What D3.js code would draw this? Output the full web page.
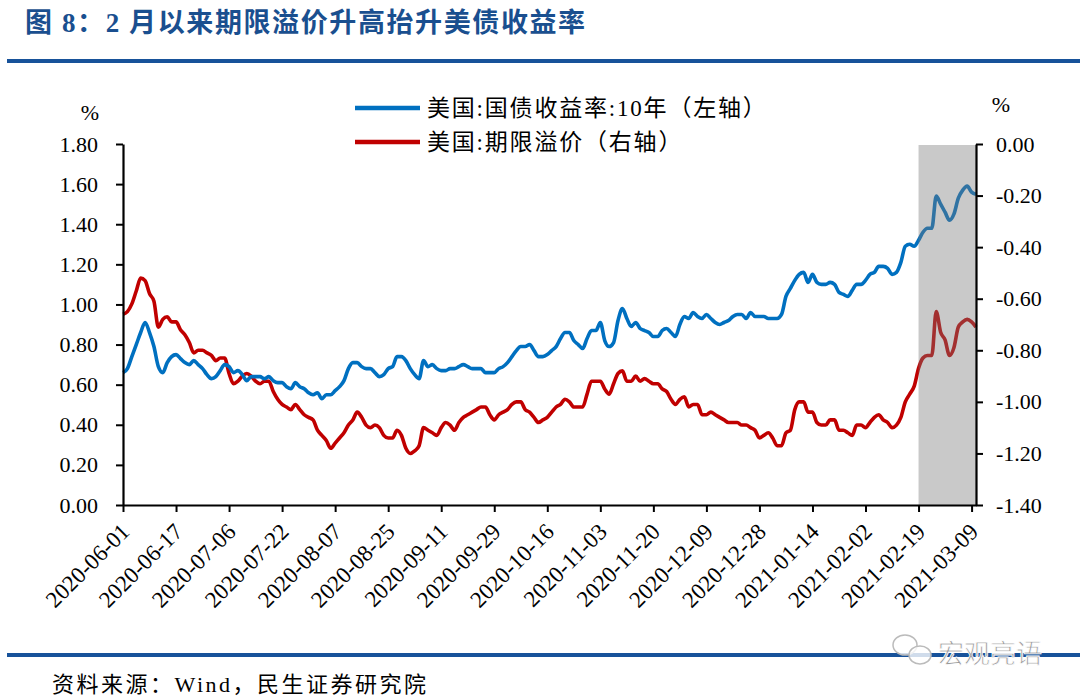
<!DOCTYPE html>
<html>
<head>
<meta charset="utf-8">
<script src="https://cdn.jsdelivr.net/npm/d3@7"></script>
<style>
  body { margin: 0; background: #fff; }
  svg { display: block; }
</style>
</head>
<body>
<svg id="chart" width="1080" height="699"></svg>
<script>
// x tick labels, one every 12 trading days
var dateLabels = ["2020-06-01", "2020-06-17", "2020-07-06", "2020-07-22", "2020-08-07", "2020-08-25",
  "2020-09-11", "2020-09-29", "2020-10-16", "2020-11-03", "2020-11-20", "2020-12-09",
  "2020-12-28", "2021-01-14", "2021-02-02", "2021-02-19", "2021-03-09"];
var labelStep = 12;
var shadeStart = 180; // index of 2021-02-19

var leftTicks = [0, 0.2, 0.4, 0.6, 0.8, 1.0, 1.2, 1.4, 1.6, 1.8];
var rightTicks = [-1.4, -1.2, -1.0, -0.8, -0.6, -0.4, -0.2, 0];

// 美国:国债收益率:10年 (%)
var yield10y = [
  0.66, 0.68, 0.74, 0.80, 0.86, 0.91, 0.86, 0.79, 0.69, 0.66,
  0.71, 0.74, 0.75, 0.73, 0.71, 0.70, 0.72, 0.70, 0.68, 0.65,
  0.63, 0.64, 0.67, 0.70, 0.69, 0.66, 0.67, 0.65, 0.62, 0.64,
  0.64, 0.64, 0.63, 0.64, 0.62, 0.61, 0.61, 0.59, 0.58, 0.61,
  0.59, 0.58, 0.56, 0.55, 0.56, 0.53, 0.55, 0.55, 0.57, 0.59,
  0.62, 0.68, 0.71, 0.71, 0.69, 0.68, 0.68, 0.66, 0.64, 0.65,
  0.68, 0.69, 0.74, 0.74, 0.72, 0.68, 0.65, 0.63, 0.72, 0.69,
  0.70, 0.68, 0.67, 0.67, 0.68, 0.68, 0.69, 0.70, 0.69, 0.68,
  0.68, 0.68, 0.66, 0.66, 0.66, 0.68, 0.69, 0.71, 0.74, 0.77,
  0.79, 0.79, 0.80, 0.77, 0.74, 0.74, 0.75, 0.77, 0.79, 0.83,
  0.86, 0.86, 0.82, 0.80, 0.78, 0.83, 0.87, 0.87, 0.91, 0.82,
  0.79, 0.81, 0.92, 0.98, 0.93, 0.89, 0.91, 0.88, 0.87, 0.86,
  0.84, 0.84, 0.87, 0.88, 0.86, 0.84, 0.90, 0.94, 0.93, 0.96,
  0.94, 0.93, 0.95, 0.93, 0.91, 0.90, 0.91, 0.92, 0.94, 0.95,
  0.95, 0.93, 0.96, 0.94, 0.94, 0.94, 0.93, 0.93, 0.93, 0.95,
  1.04, 1.08, 1.12, 1.15, 1.16, 1.11, 1.15, 1.11, 1.10, 1.10,
  1.11, 1.10, 1.06, 1.05, 1.04, 1.07, 1.10, 1.10, 1.12, 1.15,
  1.16, 1.19, 1.19, 1.18, 1.15, 1.16, 1.21, 1.29, 1.30, 1.29,
  1.32, 1.36, 1.38, 1.38, 1.54, 1.50, 1.46, 1.42, 1.45, 1.53,
  1.57, 1.59, 1.56, 1.55
];

// 美国:期限溢价 (%)
var termPremium = [
  -0.66, -0.65, -0.62, -0.57, -0.52, -0.53, -0.58, -0.61, -0.71, -0.68,
  -0.67, -0.69, -0.69, -0.72, -0.74, -0.77, -0.81, -0.80, -0.80, -0.81,
  -0.82, -0.84, -0.83, -0.83, -0.89, -0.93, -0.92, -0.90, -0.89, -0.90,
  -0.92, -0.93, -0.92, -0.92, -0.96, -0.99, -1.01, -1.02, -1.03, -1.01,
  -1.03, -1.05, -1.06, -1.07, -1.11, -1.13, -1.15, -1.18, -1.16, -1.14,
  -1.12, -1.09, -1.07, -1.04, -1.06, -1.09, -1.10, -1.09, -1.10, -1.13,
  -1.14, -1.14, -1.11, -1.13, -1.18, -1.20, -1.19, -1.17, -1.10, -1.11,
  -1.12, -1.13, -1.10, -1.08, -1.09, -1.11, -1.08, -1.06, -1.05, -1.04,
  -1.03, -1.02, -1.02, -1.05, -1.07, -1.05, -1.04, -1.03, -1.01, -1.00,
  -1.00, -1.03, -1.04, -1.06, -1.08, -1.07, -1.06, -1.04, -1.02, -1.01,
  -0.99, -1.00, -1.02, -1.02, -1.02, -0.97, -0.92, -0.92, -0.92, -0.95,
  -0.97, -0.93, -0.89, -0.88, -0.92, -0.92, -0.90, -0.92, -0.91, -0.92,
  -0.93, -0.93, -0.95, -0.96, -0.99, -1.01, -0.99, -0.98, -1.02, -1.01,
  -1.01, -1.05, -1.05, -1.04, -1.05, -1.06, -1.07, -1.08, -1.08, -1.08,
  -1.09, -1.09, -1.10, -1.11, -1.14, -1.13, -1.12, -1.14, -1.17, -1.17,
  -1.12, -1.11, -1.03, -1.00, -1.00, -1.04, -1.04, -1.08, -1.09, -1.09,
  -1.07, -1.07, -1.11, -1.11, -1.12, -1.13, -1.09, -1.09, -1.10, -1.08,
  -1.06, -1.05, -1.07, -1.08, -1.10, -1.09, -1.06, -1.00, -0.97, -0.94,
  -0.87, -0.83, -0.82, -0.82, -0.65, -0.73, -0.76, -0.82, -0.79, -0.71,
  -0.69, -0.68, -0.69, -0.71
];

var margin = {top: 144, right: 104, bottom: 194, left: 123};
var width = 1080, height = 699;
var serif = "'Liberation Serif', 'Times New Roman', serif";
var cjk = "'Liberation Serif', 'Noto Sans CJK SC', sans-serif";
var blue = "#0070c0", red = "#c00000", rule = "#17529a";

var svg = d3.select("#chart");

// title + rules
svg.append("text")
  .attr("x", 25).attr("y", 32)
  .attr("fill", "#1a4f8f")
  .style("font-family", cjk)
  .style("font-weight", "bold")
  .style("font-size", "27px")
  .style("letter-spacing", "1.6px")
  .text("图 8：2 月以来期限溢价升高抬升美债收益率");
svg.append("rect").attr("x", 7).attr("y", 59).attr("width", 1073).attr("height", 4).attr("fill", rule);
svg.append("rect").attr("x", 7).attr("y", 653).attr("width", 1073).attr("height", 4).attr("fill", rule);

svg.append("text")
  .attr("x", 52).attr("y", 692)
  .style("font-family", cjk)
  .style("font-size", "22px")
  .style("letter-spacing", "2.5px")
  .text("资料来源：Wind，民生证券研究院");

// scales
var x = d3.scaleLinear()
  .domain([0, yield10y.length - 1])
  .range([margin.left, width - margin.right]);
var yL = d3.scaleLinear().domain([0, 1.8]).range([height - margin.bottom, margin.top]);
var yR = d3.scaleLinear().domain([-1.4, 0]).range([height - margin.bottom, margin.top]);

// lines
var lineL = d3.line().curve(d3.curveMonotoneX)
  .x(function(d, i) { return x(i); })
  .y(function(d) { return yL(d); });
var lineR = d3.line().curve(d3.curveMonotoneX)
  .x(function(d, i) { return x(i); })
  .y(function(d) { return yR(d); });

svg.append("path").datum(termPremium)
  .attr("d", lineR).attr("fill", "none")
  .attr("stroke", red).attr("stroke-width", 3.6).attr("stroke-linejoin", "round");
svg.append("path").datum(yield10y)
  .attr("d", lineL).attr("fill", "none")
  .attr("stroke", blue).attr("stroke-width", 3.6).attr("stroke-linejoin", "round");

// shaded window since 2021-02-19 (drawn over the lines, translucent)
svg.append("rect")
  .attr("x", x(shadeStart))
  .attr("y", yL(1.8) + 1)
  .attr("width", x(yield10y.length - 1) - x(shadeStart))
  .attr("height", yL(0) - yL(1.8) - 1)
  .attr("fill", "#777777")
  .attr("fill-opacity", 0.4);

// axes
var tickIdx = dateLabels.map(function(d, i) { return i * labelStep; });

var gx = svg.append("g")
  .attr("transform", "translate(0," + yL(0) + ")")
  .call(d3.axisBottom(x).tickValues(tickIdx).tickSize(7).tickSizeOuter(0).tickFormat(""));

gx.selectAll(".xlab")
  .data(tickIdx)
  .join("text")
  .attr("class", "xlab")
  .attr("text-anchor", "end")
  .attr("transform", function(d) { return "translate(" + (x(d) + 8) + ",28) rotate(-45)"; })
  .attr("fill", "#000")
  .style("font-family", serif)
  .style("font-size", "23px")
  .text(function(d, i) { return dateLabels[i]; });

var gl = svg.append("g")
  .attr("transform", "translate(" + margin.left + ",0)")
  .call(d3.axisLeft(yL).tickValues(leftTicks).tickSize(7).tickSizeOuter(0)
    .tickFormat(function(d) { return d.toFixed(2); }));

var gr = svg.append("g")
  .attr("transform", "translate(" + (width - margin.right) + ",0)")
  .call(d3.axisRight(yR).tickValues(rightTicks).tickSize(7).tickSizeOuter(0)
    .tickFormat(function(d) { return Math.abs(d) < 1e-9 ? "0.00" : d.toFixed(2); }));

[gx, gl, gr].forEach(function(g) {
  g.select(".domain").attr("stroke", "#000").attr("stroke-width", 2.2);
  g.selectAll(".tick line").attr("stroke", "#000").attr("stroke-width", 2);
});
[gl, gr].forEach(function(g) {
  g.selectAll(".tick text")
    .attr("fill", "#000")
    .style("font-family", serif)
    .style("font-size", "22px");
});
gl.selectAll(".tick text").attr("x", -25);
gr.selectAll(".tick text").attr("x", 20);

// unit labels
svg.append("text").attr("x", 90).attr("y", 120).attr("text-anchor", "middle")
  .style("font-family", serif).style("font-size", "22px").text("%");
svg.append("text").attr("x", 1001).attr("y", 112).attr("text-anchor", "middle")
  .style("font-family", serif).style("font-size", "22px").text("%");

// legend
var legend = [
  {name: "美国:国债收益率:10年（左轴）", color: blue},
  {name: "美国:期限溢价（右轴）", color: red}
];
var lg = svg.append("g").attr("transform", "translate(355,108)");
legend.forEach(function(d, i) {
  lg.append("line")
    .attr("x1", 0).attr("x2", 65)
    .attr("y1", i * 34).attr("y2", i * 34)
    .attr("stroke", d.color).attr("stroke-width", 4.5);
  lg.append("text")
    .attr("x", 72).attr("y", i * 34 + 8)
    .style("font-family", cjk)
    .style("font-size", "23px")
    .style("letter-spacing", "1.8px")
    .text(d.name);
});

// watermark
var wm = svg.append("g");
wm.append("ellipse").attr("cx", 905).attr("cy", 645).attr("rx", 12).attr("ry", 10)
  .attr("fill", "#fff").attr("fill-opacity", 0.8).attr("stroke", "#bbb").attr("stroke-width", 1.5);
wm.append("ellipse").attr("cx", 920).attr("cy", 655).attr("rx", 11).attr("ry", 9)
  .attr("fill", "#fff").attr("fill-opacity", 0.8).attr("stroke", "#bbb").attr("stroke-width", 1.5);
wm.append("text").attr("x", 938).attr("y", 663)
  .attr("fill", "#999").attr("stroke", "#fff").attr("stroke-width", 0.8)
  .style("font-family", "'Noto Sans CJK SC', sans-serif")
  .style("font-size", "26px")
  .text("宏观亮语");
</script>
</body>
</html>
